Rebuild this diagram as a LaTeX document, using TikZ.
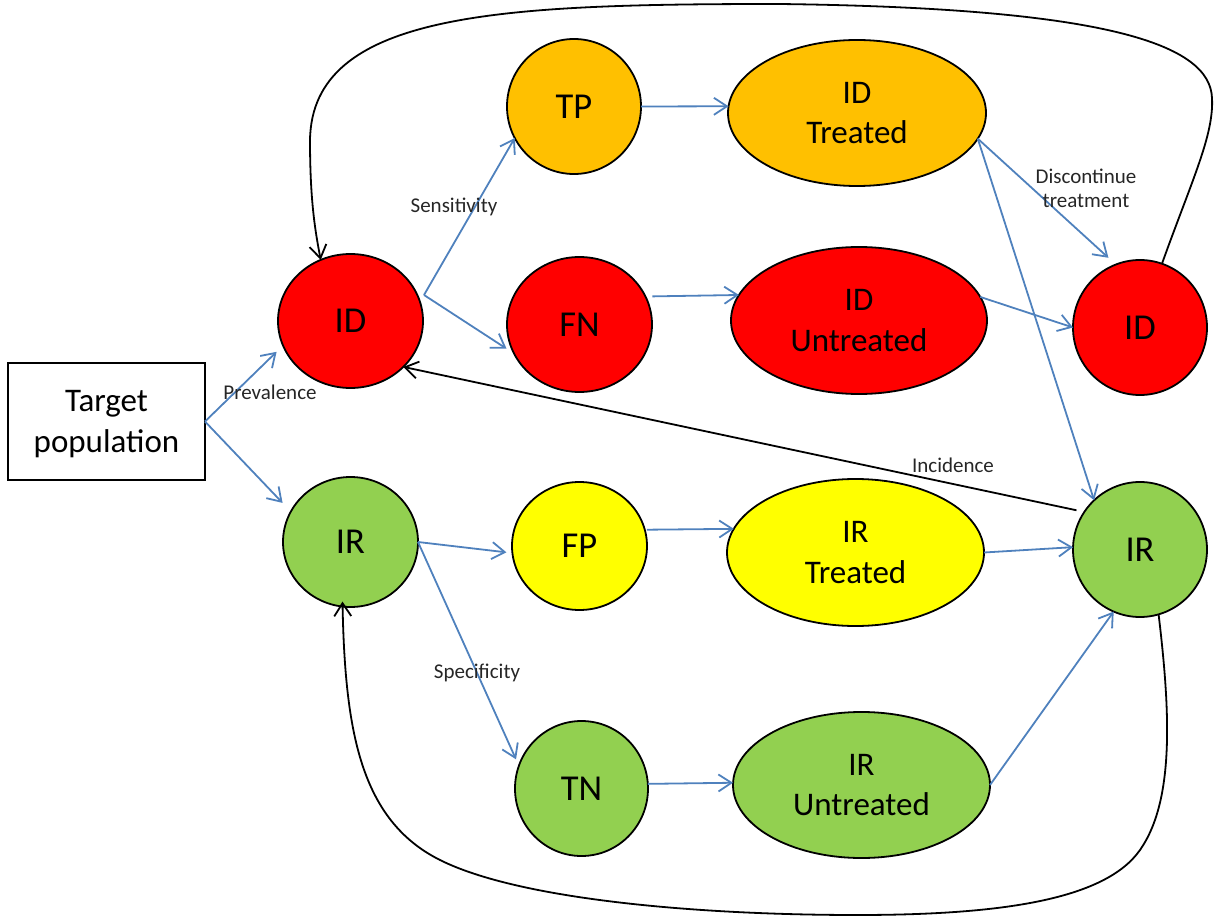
\documentclass[tikz,border=0pt]{standalone}
\usepackage{fontspec}
\setmainfont{Carlito}
\usetikzlibrary{shapes.geometric,arrows.meta}
\definecolor{cOrange}{HTML}{FFC000}
\definecolor{cRed}{HTML}{FF0000}
\definecolor{cGreen}{HTML}{92D050}
\definecolor{cYellow}{HTML}{FFFF00}
\definecolor{cBlue}{HTML}{4F81BD}
\definecolor{cText}{HTML}{262626}
\begin{document}
\begin{tikzpicture}[x=1pt,y=-1pt,
  state/.style={ellipse, draw=black, line width=1.8pt, inner sep=0pt, outer sep=0pt,
    align=center, font=\fontsize{33}{40.5}\selectfont},
  circ/.style={state, font=\fontsize{36.5}{40.5}\selectfont},
  boxnode/.style={rectangle, draw=black, line width=1.8pt, inner sep=0pt, outer sep=0pt,
    align=center, font=\fontsize{33}{40.5}\selectfont},
  lbl/.style={font=\fontsize{21}{24}\selectfont, text=cText, align=center, inner sep=0pt},
  barrow/.style={draw=cBlue, line width=1.8pt, -{Straight Barb[length=13pt,width=17pt]}},
  karrow/.style={draw=black, line width=1.8pt, -{Straight Barb[length=13pt,width=17pt]}},
]
\useasboundingbox (0,0) rectangle (1216,917);

% nodes
\node[boxnode, minimum width=197pt, minimum height=117pt, text depth=-3pt] (target) at (106.5,421.5) {Target\\population};
\node[circ, fill=cRed, minimum width=145pt, minimum height=134pt] (IDl) at (350.5,321) {ID};
\node[circ, fill=cGreen, minimum width=135pt, minimum height=130pt] (IRl) at (350.5,542) {IR};
\node[circ, fill=cOrange, minimum width=134pt, minimum height=135pt] (TP) at (574,106.5) {TP};
\node[circ, fill=cRed, minimum width=145pt, minimum height=135pt] (FN) at (579.5,324.5) {FN};
\node[circ, fill=cYellow, minimum width=135pt, minimum height=128pt] (FP) at (579.5,546) {FP};
\node[circ, fill=cGreen, minimum width=133pt, minimum height=135pt] (TN) at (581.5,788.5) {TN};
\node[state, fill=cOrange, minimum width=258pt, minimum height=146pt] (IDT) at (857,113) {ID\\Treated};
\node[state, fill=cRed, minimum width=256pt, minimum height=147pt] (IDU) at (859,320.5) {ID\\Untreated};
\node[state, fill=cYellow, minimum width=257pt, minimum height=147pt] (IRT) at (855.5,552.5) {IR\\Treated};
\node[state, fill=cGreen, minimum width=257pt, minimum height=146pt] (IRU) at (861.5,785) {IR\\Untreated};
\node[circ, fill=cRed, minimum width=134pt, minimum height=135pt] (IDr) at (1140,327.5) {ID};
\node[circ, fill=cGreen, minimum width=134pt, minimum height=135pt] (IRr) at (1140,549.5) {IR};

\coordinate (idfork) at (424,295);

% blue connectors
\draw[barrow, shorten >=9pt] (target.east) -- (IDl.-160);
\draw[barrow, shorten >=12pt] (target.east) -- (IRl.153.7);
\draw[barrow] (idfork) -- (TP.208.8);
\draw[barrow, shorten >=9pt] (idfork) -- (FN.-156.7);
\draw[barrow] (TP.east) -- (IDT.177);
\draw[barrow, shorten <=7pt] (FN.23.5) -- (IDU.168.5);
\draw[barrow, shorten >=10pt] (IDT.-12) -- (IDr.111.6);
\draw[barrow] (IDT.-12) -- (IRr.133.5);
\draw[barrow] (IDU.11) -- (IDr.180);
\draw[barrow, shorten >=6pt] (IRl.east) -- (FP.186.5);
\draw[barrow, shorten >=7pt] (IRl.east) -- (TN.160.3);
\draw[barrow, shorten <=2pt] (FP.14.7) -- (IRT.169.1);
\draw[barrow] (TN.4.7) -- (IRU.179);
\draw[barrow] (IRT.east) -- (IRr.178);
\draw[barrow] (IRU.east) -- (IRr.-113.4);

% black connectors
\draw[karrow, shorten <=8pt] (IRr.146) -- (IDl.-41.8);
\draw[karrow] (IDr.71.7) .. controls (1192,180) and (1214,135) .. (1212,98)
  .. controls (1210,45) and (1110,8) .. (779,4)
  .. controls (500,4) and (312,12) .. (310,140)
  .. controls (310,200) and (315,230) .. (IDl.116.6);
\draw[karrow, shorten >=-5pt] (IRr.-74.9) .. controls (1170,710) and (1175,800) .. (1140,850)
  .. controls (1105,900) and (1000,915) .. (857,915)
  .. controls (700,915) and (520,900) .. (440,860)
  .. controls (360,820) and (345,730) .. (IRl.-97.4);

% labels
\node[lbl] (prev) at (270,392) {Prevalence};
\node[lbl] (sens) at (454,207) {Sensitivity};
\node[lbl] (spec) at (477,673) {Specificity};
\node[lbl] (disc) at (1086,188) {Discontinue\\treatment};
\node[lbl] (inc) at (953,465) {Incidence};
\end{tikzpicture}
\end{document}
